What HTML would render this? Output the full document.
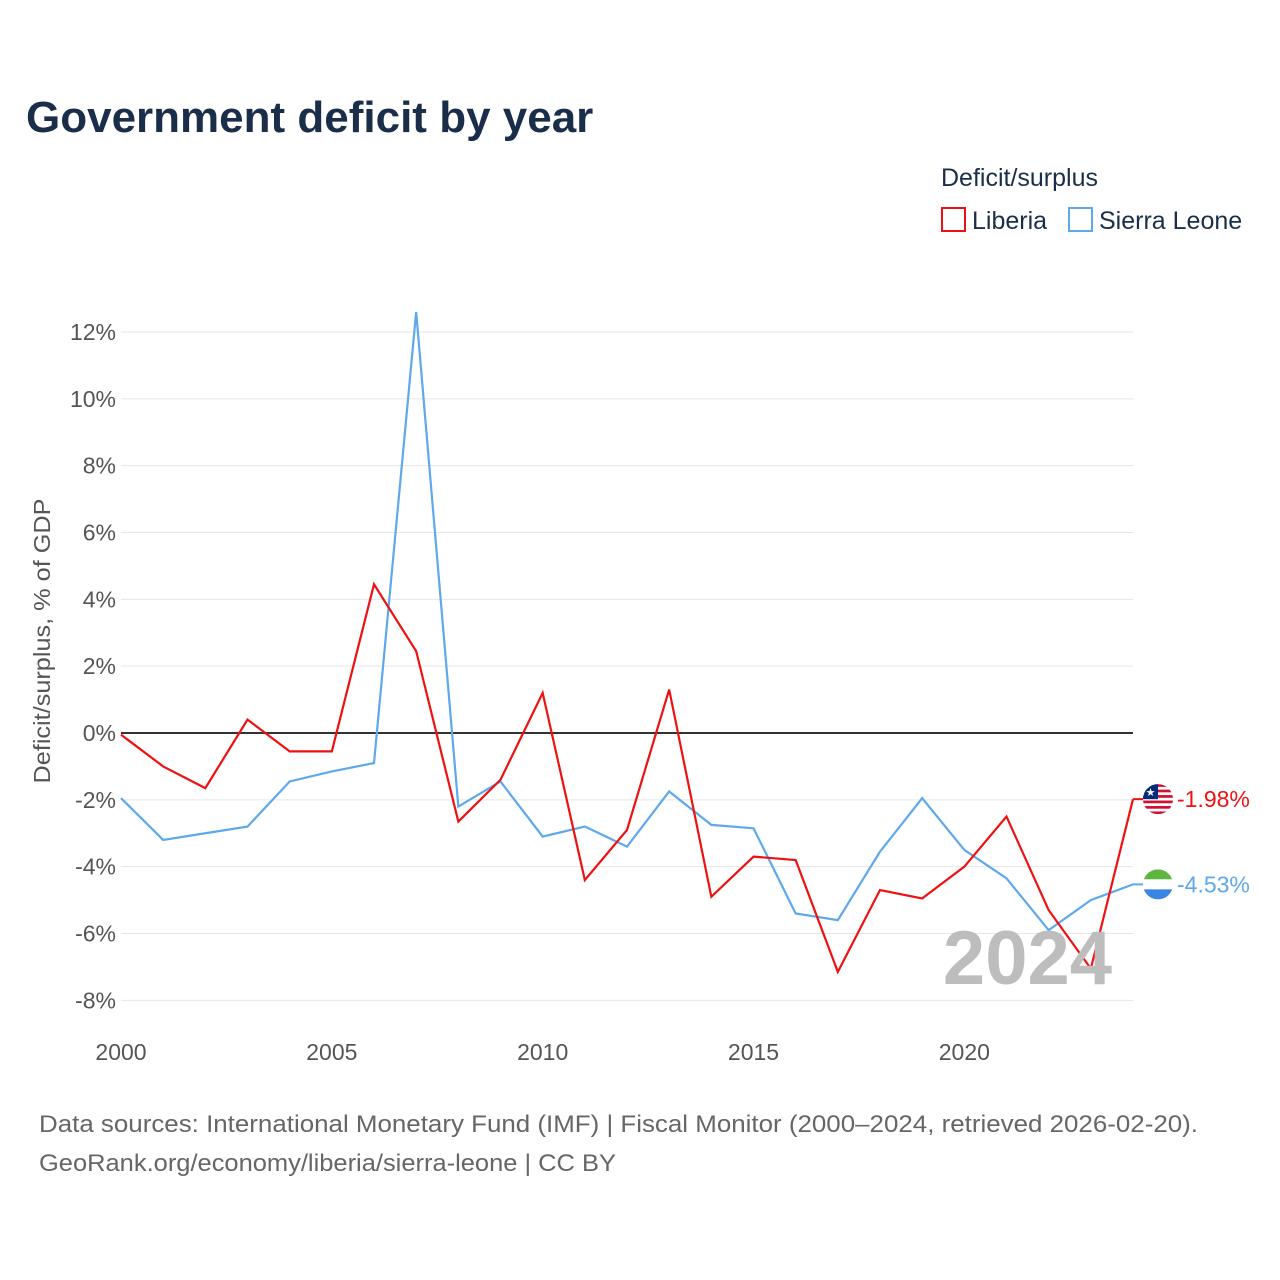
<!DOCTYPE html>
<html><head><meta charset="utf-8"><style>
body{margin:0;background:#fff;font-family:"Liberation Sans",sans-serif;}
</style></head><body>
<svg id="chart" width="1280" height="1280" xmlns="http://www.w3.org/2000/svg" style="display:block">
<rect width="1280" height="1280" fill="#fff"/>
<text x="26" y="132" font-size="44" font-weight="bold" fill="#1a2e4a">Government deficit by year</text>
<text x="941" y="186" font-size="25" fill="#1a2e4a">Deficit/surplus</text>
<g><rect x="942" y="208" width="23" height="23" fill="none" stroke="#ee1111" stroke-width="2"/><text x="972" y="229" font-size="25" fill="#1a2e4a">Liberia</text></g>
<g><rect x="1069" y="208" width="23" height="23" fill="none" stroke="#5ea8ec" stroke-width="2"/><text x="1099" y="229" font-size="25" fill="#1a2e4a">Sierra Leone</text></g>
<text transform="translate(50,641) rotate(-90)" text-anchor="middle" font-size="23" fill="#555" textLength="285" lengthAdjust="spacingAndGlyphs">Deficit/surplus, % of GDP</text>
<g id="grid"></g><g id="series"></g>
<text x="1112" y="984" text-anchor="end" font-size="76" font-weight="bold" fill="#bdbdbd">2024</text>
<text x="39" y="1132" font-size="24" fill="#666" textLength="1159" lengthAdjust="spacingAndGlyphs">Data sources: International Monetary Fund (IMF) | Fiscal Monitor (2000–2024, retrieved 2026-02-20).</text>
<text x="39" y="1171" font-size="24" fill="#666" textLength="577" lengthAdjust="spacingAndGlyphs">GeoRank.org/economy/liberia/sierra-leone | CC BY</text>
</svg>
<script>
const years=[2000,2001,2002,2003,2004,2005,2006,2007,2008,2009,2010,2011,2012,2013,2014,2015,2016,2017,2018,2019,2020,2021,2022,2023,2024];
const liberia=[-0.05,-1.0,-1.65,0.4,-0.55,-0.55,4.45,2.45,-2.65,-1.4,1.2,-4.4,-2.9,1.3,-4.9,-3.7,-3.8,-7.15,-4.7,-4.95,-4.0,-2.5,-5.3,-7.05,-1.98];
const sierraLeone=[-1.95,-3.2,-3.0,-2.8,-1.45,-1.15,-0.9,12.6,-2.2,-1.45,-3.1,-2.8,-3.4,-1.75,-2.75,-2.85,-5.4,-5.6,-3.55,-1.95,-3.5,-4.35,-5.9,-5.0,-4.53];
const yTicks=[-8,-6,-4,-2,0,2,4,6,8,10,12];
const xTicks=[2000,2005,2010,2015,2020];
const NS="http://www.w3.org/2000/svg";
const X=y=>121+(y-2000)*(1133-121)/24;
const Y=v=>733-v*(733-332)/12;
function el(t,a,p){const e=document.createElementNS(NS,t);for(const k in a)e.setAttribute(k,a[k]);p.appendChild(e);return e;}
const g=document.getElementById('grid'),s=document.getElementById('series');
yTicks.forEach(v=>{
 const l=el('line',{x1:121,x2:1133,y1:Y(v),y2:Y(v),stroke:v===0?'#333':'#e6e6e6','stroke-width':v===0?2:1},g);
 
 
 const t=el('text',{x:116,y:Y(v)+8,'text-anchor':'end','font-size':23,fill:'#555'},g);t.textContent=v+'%';
 
 
});
xTicks.forEach(v=>{
 const t=el('text',{x:X(v),y:1060,'text-anchor':'middle','font-size':23,fill:'#555'},g);t.textContent=v;
 
 
});
function line(d,c,name){
 const p=el('polyline',{points:d.map((v,i)=>X(years[i])+','+Y(v)).join(' '),fill:'none',stroke:c,'stroke-width':2.2},s);
 
 
}
line(sierraLeone,'#5ea8ec','sierra-leone-line');
line(liberia,'#ee1111','liberia-line');
const lv=liberia[24],sv=sierraLeone[24];
const ly=Y(lv),sy=Y(sv);
el('line',{x1:1133,x2:1143,y1:ly,y2:ly,stroke:'#ee1111','stroke-width':2},s);
el('line',{x1:1133,x2:1143,y1:sy,y2:sy,stroke:'#5ea8ec','stroke-width':2},s);
const d=document.createElementNS(NS,'defs');s.appendChild(d);
d.innerHTML='<clipPath id="c1"><circle cx="1158" cy="'+ly+'" r="15"/></clipPath><clipPath id="c2"><circle cx="1158" cy="'+sy+'" r="15"/></clipPath>';
const f1=el('g',{'clip-path':'url(#c1)'},s);


for(let i=0;i<11;i++)el('rect',{x:1143,y:ly-15+i*30/11,width:30,height:30/11+0.3,fill:i%2?'#fff':'#d21034'},f1);
el('rect',{x:1143,y:ly-15,width:15,height:15,fill:'#002b7f'},f1);
el('text',{x:1150.5,y:ly-3,'text-anchor':'middle','font-size':11,fill:'#fff'},f1).textContent='★';
const f2=el('g',{'clip-path':'url(#c2)'},s);


el('rect',{x:1143,y:sy-15,width:30,height:10,fill:'#5eb63e'},f2);
el('rect',{x:1143,y:sy-5,width:30,height:10,fill:'#fff'},f2);
el('rect',{x:1143,y:sy+5,width:30,height:10,fill:'#3a84e6'},f2);
const t1=el('text',{x:1177,y:ly+8,'font-size':23,fill:'#ee1111'},s);t1.textContent=lv.toFixed(2)+'%';


const t2=el('text',{x:1177,y:sy+8,'font-size':23,fill:'#5ea8ec'},s);t2.textContent=sv.toFixed(2)+'%';


</script>
</body></html>
